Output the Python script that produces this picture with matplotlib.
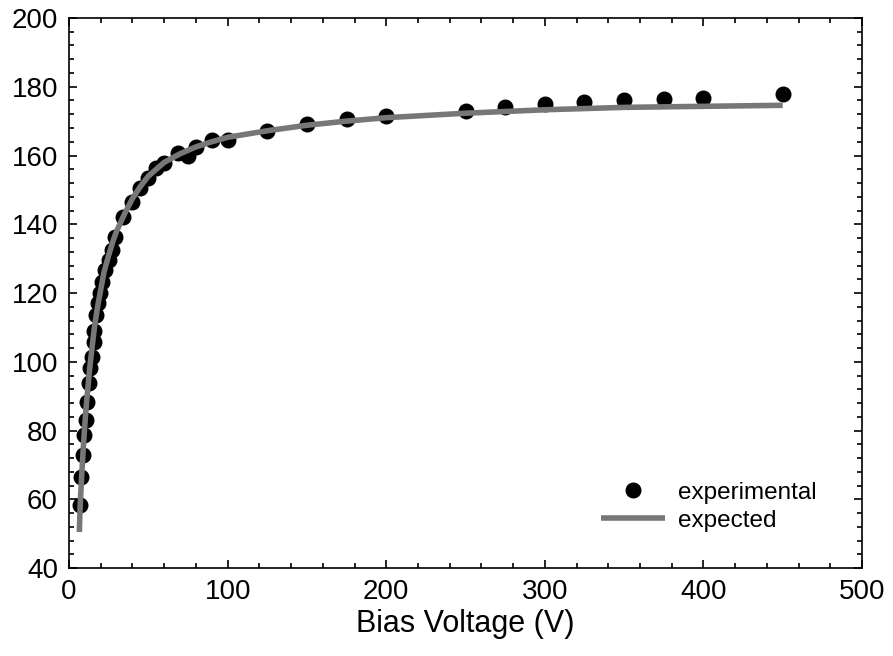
import matplotlib
matplotlib.use('Agg')
import matplotlib.pyplot as plt
from matplotlib.ticker import MultipleLocator

plt.rcParams['font.family'] = ['Liberation Sans', 'DejaVu Sans']

# experimental points (bias voltage V, value)
exp_v = [7, 7.5, 8.5, 9.5, 10.5, 11.5, 12.5, 13.5, 14.5, 15.5, 16, 17, 18, 19.5,
         21, 22.5, 25, 27, 29, 34, 39.5, 45, 50, 55, 60, 69, 75, 80, 90, 100,
         125, 150, 175, 200, 250, 275, 300, 325, 350, 375, 400, 450]
exp_y = [58.3, 66.5, 72.9, 78.7, 83, 88.4, 93.8, 98.2, 101.5, 105.8, 109, 113.6, 117, 120,
         123.3, 126.7, 129.6, 132.5, 136.4, 142.2, 146.6, 150.5, 153.4, 156.3, 157.7, 160.6, 160, 162.6, 164.5, 164.6,
         167, 169.2, 170.5, 171.5, 173, 174, 175, 175.7, 176, 176.4, 176.8, 178]

# expected curve
fit_v = [6.5, 7, 8, 9, 10, 11, 12, 13, 14, 15, 16, 18, 20, 22, 25, 28, 30, 35, 40, 45,
         50, 60, 70, 80, 90, 100, 125, 150, 175, 200, 250, 300, 350, 400, 450]
fit_y = [50.5, 58, 67, 75, 82, 88, 93, 98, 102, 106, 110, 116, 121, 126, 131, 135.5, 138, 143, 147.5, 151,
         154, 158, 160.5, 162.5, 164, 165.3, 167.2, 168.8, 170, 171, 172.3, 173.3, 174, 174.3, 174.6]

fig = plt.figure(figsize=(8.93, 6.56), dpi=100)
ax = fig.add_axes([0.0773, 0.134, 0.888, 0.8386])

ax.plot(exp_v, exp_y, 'o', color='black', markersize=10.5, label='experimental', zorder=2)
ax.plot(fit_v, fit_y, '-', color='#777777', linewidth=4, label='expected', zorder=3,
        solid_capstyle='butt')

ax.set_xlim(0, 500)
ax.set_ylim(40, 200)
ax.xaxis.set_major_locator(MultipleLocator(100))
ax.xaxis.set_minor_locator(MultipleLocator(20))
ax.yaxis.set_major_locator(MultipleLocator(20))
ax.yaxis.set_minor_locator(MultipleLocator(4))
ax.tick_params(which='both', direction='in', top=True, right=True, width=1.2)
ax.tick_params(which='major', length=6, labelsize=20, pad=8)
ax.tick_params(which='minor', length=3.5)
for s in ax.spines.values():
    s.set_linewidth(1.2)

ax.set_xlabel('Bias Voltage (V)', fontsize=22, labelpad=3)

ax.legend(loc='lower right', bbox_to_anchor=(0.958, 0.044), frameon=False, fontsize=17.5,
          handlelength=2.63, handletextpad=0.53, labelspacing=0.25, borderpad=0)

fig.savefig('out.png', dpi=100)
